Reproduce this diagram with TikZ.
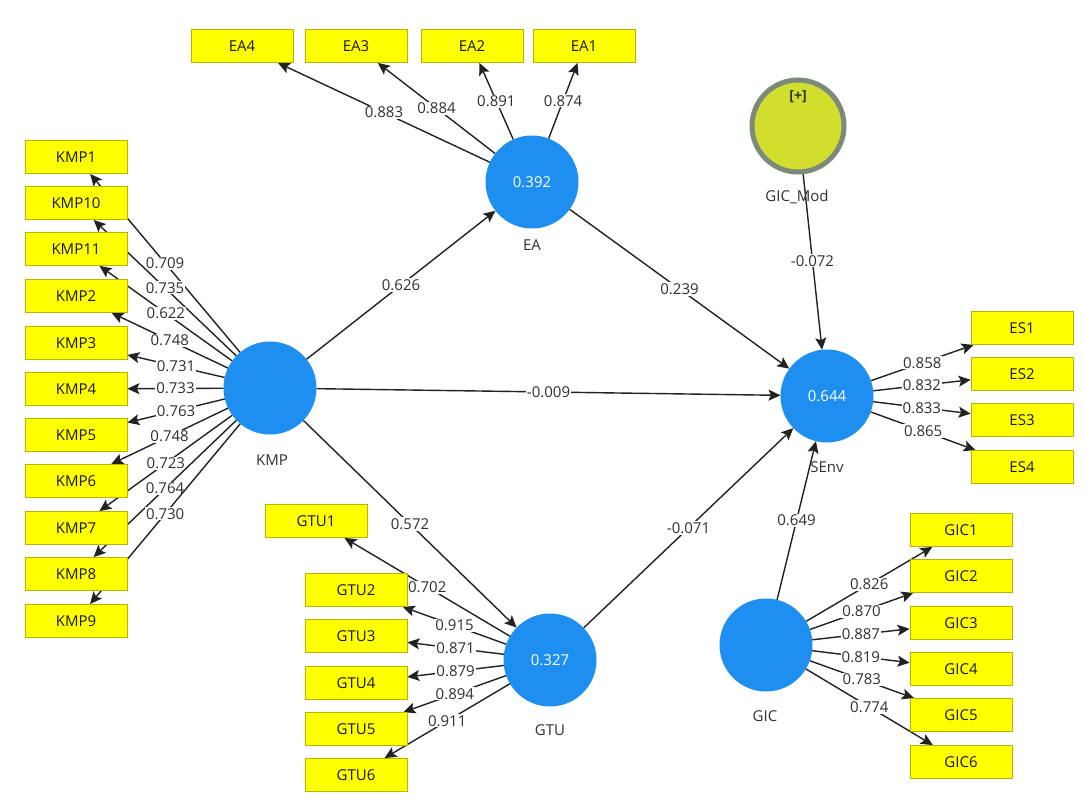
\documentclass[tikz,border=0pt]{standalone}
\usepackage{fontspec}
\setmainfont{Open Sans}
\usetikzlibrary{arrows.meta,backgrounds}
\definecolor{indf}{HTML}{FFFF00}
\definecolor{indb}{HTML}{B5B500}
\definecolor{lvf}{HTML}{1E8FF0}
\definecolor{modf}{HTML}{D2DE2E}
\definecolor{modb}{HTML}{7C8A7C}
\definecolor{lnc}{HTML}{222222}
\definecolor{txtc}{HTML}{303030}
\begin{document}
\begin{tikzpicture}[x=1pt,y=-1pt,
 indbox/.style={rectangle,fill=indf,draw=indb,line width=0.8pt,minimum width=102pt,minimum height=33pt,inner sep=0pt,font=\fontsize{15}{17}\selectfont,text=black!90},
 lvcirc/.style={circle,fill=lvf,minimum size=93pt,inner sep=0pt,outer sep=0pt,text=white,font=\fontsize{15}{17}\selectfont},
 modcirc/.style={circle,fill=modf,draw=modb,line width=5pt,minimum size=92pt,inner sep=0pt,outer sep=0pt},
 lvname/.style={text=txtc,font=\fontsize{15}{17}\selectfont},
 lbl/.style={fill=white,inner sep=1pt,text=txtc,font=\fontsize{15}{17}\selectfont},
 edge/.style={draw=lnc,line width=1.4pt,-{Stealth[length=12pt,width=11pt,inset=2.5pt]}},
]
\useasboundingbox (0,0) rectangle (1084,803);

% latent variables
\node[lvcirc] (kmp) at (270,388) {};
\node[lvcirc] (ea) at (532,182) {0.392};
\node[lvcirc] (senv) at (827,396) {0.644};
\node[lvcirc] (gtu) at (550,660) {0.327};
\node[lvcirc] (gic) at (766,645) {};
\node[modcirc] (gicmod) at (798,126) {};
\node[text=txtc,font=\fontsize{14}{16}\selectfont\bfseries] (modplus) at (798,97) {[+]};

\node[lvname] (kmpname) at (272,460) {KMP};
\node[lvname] (eaname) at (532,245) {EA};
\node[lvname] (senvname) at (827,467) {SEnv};
\node[lvname] (gtuname) at (550,730) {GTU};
\node[lvname] (gicname) at (765,716) {GIC};
\node[lvname] (gicmodname) at (797,197) {GIC\_Mod};

% KMP indicators
\node[indbox] (kmp1) at (76,157) {KMP1};
\node[indbox] (kmp10) at (76,203) {KMP10};
\node[indbox] (kmp11) at (76,249) {KMP11};
\node[indbox] (kmp2) at (76,296) {KMP2};
\node[indbox] (kmp3) at (76,343) {KMP3};
\node[indbox] (kmp4) at (76,389) {KMP4};
\node[indbox] (kmp5) at (76,435) {KMP5};
\node[indbox] (kmp6) at (76,481) {KMP6};
\node[indbox] (kmp7) at (76,528) {KMP7};
\node[indbox] (kmp8) at (76,574) {KMP8};
\node[indbox] (kmp9) at (76,621) {KMP9};

% EA indicators
\node[indbox] (ea4) at (242,46) {EA4};
\node[indbox] (ea3) at (356,46) {EA3};
\node[indbox] (ea2) at (472,46) {EA2};
\node[indbox] (ea1) at (584,46) {EA1};

% ES indicators
\node[indbox] (es1) at (1022,328) {ES1};
\node[indbox] (es2) at (1022,374) {ES2};
\node[indbox] (es3) at (1022,420) {ES3};
\node[indbox] (es4) at (1022,467) {ES4};

% GTU indicators
\node[indbox] (gtu1) at (316,521) {GTU1};
\node[indbox] (gtu2) at (356,590) {GTU2};
\node[indbox] (gtu3) at (356,636) {GTU3};
\node[indbox] (gtu4) at (356,683) {GTU4};
\node[indbox] (gtu5) at (356,729) {GTU5};
\node[indbox] (gtu6) at (356,775) {GTU6};

% GIC indicators
\node[indbox] (gic1) at (961,530) {GIC1};
\node[indbox] (gic2) at (961,576) {GIC2};
\node[indbox] (gic3) at (961,623) {GIC3};
\node[indbox] (gic4) at (961,669) {GIC4};
\node[indbox] (gic5) at (961,715) {GIC5};
\node[indbox] (gic6) at (961,762) {GIC6};

\begin{pgfonlayer}{background}
\fill[white] (0,0) rectangle (1084,803);
% structural paths
\draw[edge] (kmp) -- node[lbl] {0.626} (ea);
\draw[edge] (ea) -- node[lbl] {0.239} (senv);
\draw[edge] (kmp) -- node[lbl] {-0.009} (senv);
\draw[edge] (kmp) -- node[lbl] {0.572} (gtu);
\draw[edge] (gtu) -- node[lbl] {-0.071} (senv);
\draw[edge] (gic) -- node[lbl] {0.649} (senv);
\draw[edge] (gicmod) -- node[lbl] {-0.072} (senv);
% KMP loadings
\draw[edge] (kmp) -- node[lbl] {0.709} (kmp1);
\draw[edge] (kmp) -- node[lbl] {0.735} (kmp10);
\draw[edge] (kmp) -- node[lbl] {0.622} (kmp11);
\draw[edge] (kmp) -- node[lbl] {0.748} (kmp2);
\draw[edge] (kmp) -- node[lbl] {0.731} (kmp3);
\draw[edge] (kmp) -- node[lbl] {0.733} (kmp4);
\draw[edge] (kmp) -- node[lbl] {0.763} (kmp5);
\draw[edge] (kmp) -- node[lbl] {0.748} (kmp6);
\draw[edge] (kmp) -- node[lbl] {0.723} (kmp7);
\draw[edge] (kmp) -- node[lbl] {0.764} (kmp8);
\draw[edge] (kmp) -- node[lbl] {0.730} (kmp9);
% EA loadings
\draw[edge] (ea) -- node[lbl] {0.883} (ea4);
\draw[edge] (ea) -- node[lbl] {0.884} (ea3);
\draw[edge] (ea) -- node[lbl] {0.891} (ea2);
\draw[edge] (ea) -- node[lbl] {0.874} (ea1);
% ES loadings
\draw[edge] (senv) -- node[lbl] {0.858} (es1);
\draw[edge] (senv) -- node[lbl] {0.832} (es2);
\draw[edge] (senv) -- node[lbl] {0.833} (es3);
\draw[edge] (senv) -- node[lbl] {0.865} (es4);
% GTU loadings
\draw[edge] (gtu) -- node[lbl] {0.702} (gtu1);
\draw[edge] (gtu) -- node[lbl] {0.915} (gtu2);
\draw[edge] (gtu) -- node[lbl] {0.871} (gtu3);
\draw[edge] (gtu) -- node[lbl] {0.879} (gtu4);
\draw[edge] (gtu) -- node[lbl] {0.894} (gtu5);
\draw[edge] (gtu) -- node[lbl] {0.911} (gtu6);
% GIC loadings
\draw[edge] (gic) -- node[lbl] {0.826} (gic1);
\draw[edge] (gic) -- node[lbl] {0.870} (gic2);
\draw[edge] (gic) -- node[lbl] {0.887} (gic3);
\draw[edge] (gic) -- node[lbl] {0.819} (gic4);
\draw[edge] (gic) -- node[lbl] {0.783} (gic5);
\draw[edge] (gic) -- node[lbl] {0.774} (gic6);
\end{pgfonlayer}
\end{tikzpicture}
\end{document}
